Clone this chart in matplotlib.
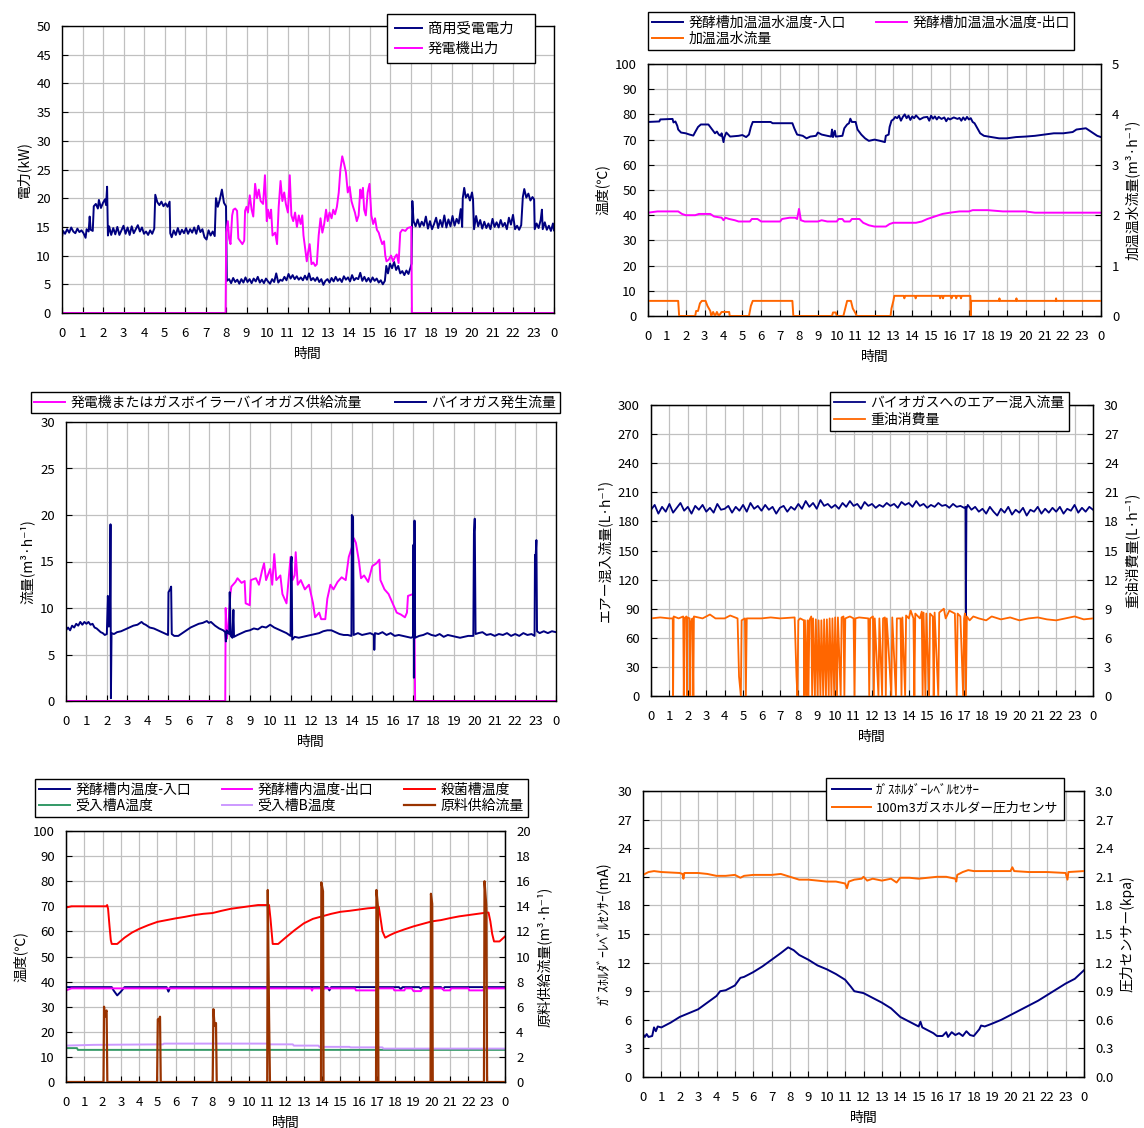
import numpy as np
import matplotlib
import matplotlib.pyplot as plt
matplotlib.use('Agg')

plt.rcParams['font.family'] = ['Noto Sans CJK JP', 'DejaVu Sans']

W, H = 1144, 1128
NAVY = '#000080'
MAGENTA = '#FF00FF'
ORANGE = '#FF6600'

hour_labels = [str(h) for h in range(24)] + ['0']

# --- panel 1: power (kW) ---
grid_kw = [
    (0.00, 13.2), (0.05, 14.3), (0.15, 13.8), (0.25, 14.6), (0.35, 14.0), (0.45, 14.9), (0.55, 14.2),
    (0.65, 13.9), (0.75, 14.7), (0.85, 14.1), (0.95, 14.4), (1.05, 13.9), (1.15, 13.1), (1.2, 14.6),
    (1.3, 14.2), (1.35, 16.8), (1.4, 14.5), (1.5, 14.3), (1.55, 18.6), (1.65, 19.0), (1.75, 18.2),
    (1.8, 19.7), (1.9, 18.3), (2.0, 19.2), (2.1, 19.8), (2.15, 18.8), (2.2, 22.0), (2.24, 13.5),
    (2.3, 15.1), (2.4, 13.6), (2.5, 14.8), (2.6, 13.7), (2.7, 15.0), (2.8, 13.6), (2.9, 14.4),
    (3.0, 15.2), (3.1, 13.8), (3.2, 14.9), (3.3, 13.6), (3.4, 15.1), (3.5, 13.9), (3.6, 14.6),
    (3.7, 15.3), (3.8, 14.2), (3.9, 14.9), (4.0, 13.8), (4.1, 14.2), (4.2, 13.6), (4.3, 14.4),
    (4.4, 13.8), (4.5, 14.7), (4.55, 20.6), (4.65, 19.3), (4.75, 18.8), (4.85, 19.4), (4.95, 18.6),
    (5.05, 19.1), (5.15, 18.5), (5.25, 19.4), (5.28, 13.9), (5.35, 13.2), (5.45, 14.4), (5.55, 13.6),
    (5.65, 14.8), (5.75, 13.7), (5.85, 14.5), (5.95, 13.9), (6.05, 14.8), (6.15, 13.8), (6.25, 14.6),
    (6.35, 14.0), (6.45, 14.9), (6.55, 13.8), (6.65, 15.2), (6.75, 14.1), (6.85, 14.6), (6.95, 13.2),
    (7.05, 12.8), (7.15, 14.4), (7.25, 13.5), (7.35, 14.2), (7.45, 13.4), (7.51, 20.0), (7.6, 18.5),
    (7.7, 19.8), (7.8, 21.5), (7.9, 19.2), (8.0, 18.6), (8.04, 5.6), (8.15, 5.9), (8.25, 5.2),
    (8.35, 6.1), (8.45, 5.4), (8.55, 5.8), (8.65, 5.1), (8.75, 5.9), (8.85, 5.3), (8.95, 6.2),
    (9.05, 5.4), (9.15, 5.9), (9.25, 5.2), (9.35, 6.0), (9.45, 5.5), (9.55, 6.3), (9.65, 5.3),
    (9.75, 5.8), (9.85, 5.2), (9.95, 6.0), (10.05, 5.5), (10.15, 5.1), (10.25, 5.9), (10.35, 5.4),
    (10.45, 6.9), (10.55, 5.3), (10.65, 5.8), (10.75, 5.6), (10.85, 6.3), (10.95, 5.7), (11.05, 6.8),
    (11.15, 6.0), (11.25, 6.6), (11.35, 5.9), (11.45, 6.4), (11.55, 5.8), (11.65, 6.2), (11.75, 5.7),
    (11.85, 6.5), (11.95, 5.8), (12.05, 6.9), (12.15, 5.7), (12.25, 6.1), (12.35, 5.6), (12.45, 6.2),
    (12.55, 5.4), (12.65, 5.9), (12.75, 4.9), (12.85, 5.6), (12.95, 5.9), (13.05, 5.3), (13.15, 6.1),
    (13.25, 5.5), (13.35, 6.3), (13.45, 5.6), (13.55, 6.0), (13.65, 5.4), (13.75, 6.4), (13.85, 5.8),
    (13.95, 6.2), (14.05, 5.5), (14.15, 6.6), (14.25, 5.7), (14.35, 6.1), (14.45, 5.9), (14.55, 7.0),
    (14.65, 5.6), (14.75, 6.3), (14.85, 5.5), (14.95, 6.1), (15.05, 5.4), (15.15, 6.2), (15.25, 5.6),
    (15.35, 6.0), (15.45, 5.3), (15.55, 5.7), (15.65, 5.0), (15.75, 5.6), (15.82, 8.2), (15.9, 6.9),
    (16.0, 8.6), (16.1, 7.8), (16.2, 8.9), (16.3, 7.5), (16.4, 8.2), (16.5, 6.9), (16.6, 7.3),
    (16.7, 6.6), (16.8, 7.4), (16.9, 6.8), (17.0, 7.9), (17.05, 8.6), (17.09, 19.5), (17.15, 16.0),
    (17.25, 15.1), (17.35, 16.3), (17.45, 15.0), (17.55, 15.9), (17.65, 15.2), (17.75, 16.8),
    (17.85, 14.7), (17.95, 16.0), (18.05, 14.6), (18.15, 15.5), (18.25, 16.6), (18.35, 14.8),
    (18.45, 16.2), (18.55, 15.0), (18.65, 17.0), (18.75, 14.9), (18.85, 16.3), (18.95, 15.1),
    (19.05, 16.9), (19.15, 15.2), (19.25, 16.4), (19.35, 15.6), (19.45, 18.1), (19.52, 15.0),
    (19.55, 20.0), (19.62, 21.8), (19.7, 20.1), (19.8, 20.7), (19.9, 19.6), (20.0, 21.0),
    (20.05, 19.8), (20.1, 14.6), (20.2, 16.9), (20.3, 15.1), (20.4, 16.2), (20.5, 14.7), (20.6, 15.9),
    (20.7, 14.8), (20.8, 15.6), (20.9, 14.6), (21.0, 16.4), (21.1, 15.0), (21.2, 15.8), (21.3, 14.9),
    (21.4, 16.2), (21.5, 15.1), (21.6, 15.7), (21.7, 14.6), (21.8, 16.6), (21.9, 15.4), (22.0, 17.1),
    (22.1, 14.6), (22.2, 15.2), (22.3, 14.5), (22.4, 15.3), (22.48, 20.2), (22.55, 21.6),
    (22.65, 20.1), (22.75, 20.8), (22.85, 19.6), (22.95, 20.2), (23.03, 19.8), (23.06, 14.6),
    (23.15, 15.6), (23.25, 14.8), (23.35, 16.2), (23.41, 18.0), (23.45, 14.6), (23.55, 15.8),
    (23.65, 14.5), (23.75, 15.2), (23.85, 14.3), (23.95, 15.6), (24.0, 14.4),
]
gen_kw = [
    (0, 0), (7.98, 0), (8.01, 14.0), (8.09, 16.0), (8.15, 13.0), (8.22, 12.0), (8.3, 17.0),
    (8.36, 18.0), (8.45, 18.2), (8.54, 17.8), (8.6, 13.0), (8.7, 12.5), (8.8, 12.0), (8.89, 12.6),
    (8.93, 17.8), (9.0, 18.5), (9.07, 17.5), (9.16, 20.5), (9.25, 18.0), (9.33, 16.8), (9.42, 22.5),
    (9.51, 20.0), (9.6, 21.5), (9.69, 19.5), (9.81, 19.0), (9.9, 24.0), (9.99, 16.0), (10.05, 18.0),
    (10.13, 16.5), (10.2, 18.0), (10.27, 13.5), (10.4, 14.0), (10.49, 12.0), (10.57, 18.5),
    (10.66, 23.0), (10.75, 19.5), (10.84, 21.0), (10.92, 19.0), (11.02, 17.5), (11.11, 24.0),
    (11.19, 17.0), (11.28, 16.0), (11.37, 17.5), (11.46, 15.0), (11.55, 17.0), (11.64, 15.5),
    (11.72, 17.0), (11.78, 13.5), (11.87, 11.0), (11.94, 9.0), (12.0, 10.5), (12.08, 12.0),
    (12.17, 8.5), (12.26, 8.8), (12.35, 8.2), (12.43, 8.5), (12.52, 13.5), (12.61, 16.5),
    (12.7, 14.0), (12.79, 15.5), (12.88, 18.0), (12.96, 16.0), (13.05, 17.5), (13.15, 16.5),
    (13.23, 18.0), (13.32, 17.2), (13.41, 18.5), (13.5, 21.0), (13.58, 25.0), (13.67, 27.3),
    (13.76, 26.0), (13.85, 24.5), (13.94, 21.0), (14.03, 22.0), (14.12, 19.5), (14.2, 18.5),
    (14.29, 17.5), (14.38, 16.0), (14.47, 17.0), (14.55, 21.5), (14.61, 20.0), (14.68, 21.8),
    (14.74, 18.0), (14.82, 17.0), (14.91, 21.0), (15.0, 22.5), (15.09, 17.0), (15.18, 15.5),
    (15.27, 16.5), (15.36, 14.5), (15.45, 14.0), (15.53, 13.0), (15.62, 12.0), (15.71, 12.5),
    (15.77, 10.0), (15.83, 9.0), (15.94, 9.3), (16.05, 10.0), (16.15, 9.0), (16.25, 9.8),
    (16.33, 10.2), (16.42, 8.7), (16.5, 14.0), (16.6, 14.5), (16.75, 14.3), (16.86, 14.8),
    (17.04, 15.0), (17.07, 0), (24, 0),
]

# --- panel 2: heating water ---
hw_in_temp = [
    (0, 77.0), (0.6, 77.2), (0.65, 78.0), (1.3, 78.2), (1.35, 76.8), (1.45, 77.2), (1.55, 75.5),
    (1.6, 74.0), (1.75, 72.8), (2.0, 72.5), (2.2, 72.0), (2.4, 71.6), (2.5, 73.0), (2.65, 75.0),
    (2.8, 76.0), (3.2, 76.0), (3.3, 75.0), (3.45, 73.5), (3.55, 72.5), (3.65, 73.2), (3.75, 72.0),
    (3.85, 71.5), (3.9, 72.5), (4.0, 69.0), (4.05, 71.0), (4.15, 72.8), (4.25, 72.0), (4.35, 71.2),
    (4.8, 71.5), (5.0, 71.8), (5.2, 71.0), (5.35, 72.0), (5.45, 75.0), (5.55, 77.0), (6.5, 77.0),
    (6.6, 76.5), (7.65, 76.5), (7.75, 74.5), (7.9, 72.0), (8.2, 71.5), (8.4, 70.5), (8.6, 71.2),
    (8.9, 71.5), (9.0, 72.8), (9.2, 72.0), (9.5, 71.5), (9.7, 71.2), (9.75, 74.0), (9.8, 71.0),
    (9.9, 73.5), (9.95, 71.2), (10.3, 71.5), (10.4, 74.5), (10.55, 76.0), (10.65, 76.5),
    (10.72, 78.3), (10.8, 77.0), (11.0, 77.0), (11.1, 74.0), (11.3, 72.0), (11.5, 70.5),
    (11.7, 69.5), (12.0, 70.0), (12.3, 69.5), (12.55, 69.0), (12.6, 71.5), (12.75, 72.0),
    (12.8, 75.0), (12.9, 77.5), (13.0, 78.0), (13.1, 79.0), (13.2, 78.5), (13.3, 79.5), (13.4, 77.5),
    (13.5, 79.0), (13.6, 80.0), (13.7, 78.5), (13.8, 79.5), (13.9, 77.8), (14.0, 79.2), (14.1, 78.5),
    (14.2, 79.6), (14.4, 78.0), (14.6, 78.8), (14.8, 79.0), (14.9, 77.5), (15.0, 79.5), (15.1, 78.3),
    (15.2, 79.2), (15.3, 78.0), (15.4, 79.0), (15.55, 78.2), (15.7, 78.8), (15.8, 77.3), (15.9, 78.5),
    (16.0, 78.0), (16.2, 78.8), (16.4, 78.2), (16.5, 78.6), (16.6, 77.5), (16.7, 78.8), (16.8, 77.8),
    (16.9, 79.0), (17.0, 78.0), (17.1, 78.5), (17.2, 77.0), (17.3, 76.5), (17.45, 74.5),
    (17.6, 72.5), (17.8, 71.5), (18.2, 71.0), (18.6, 70.5), (19.0, 70.5), (19.5, 71.0),
    (20.0, 71.2), (20.5, 71.5), (21.0, 72.0), (21.5, 72.5), (22.0, 72.5), (22.5, 73.0),
    (22.7, 74.0), (23.2, 74.5), (23.4, 73.5), (23.6, 72.5), (23.8, 71.5), (24.0, 71.0),
]
hw_out_temp = [
    (0, 41.0), (0.5, 41.5), (1.6, 41.5), (1.8, 40.5), (2.0, 40.0), (2.5, 40.0), (2.7, 40.5),
    (3.3, 40.5), (3.5, 39.5), (3.9, 39.0), (4.0, 38.0), (4.1, 39.0), (4.3, 38.5), (4.6, 38.0),
    (4.8, 37.5), (5.4, 37.5), (5.5, 38.5), (5.8, 38.5), (6.0, 37.5), (7.0, 37.5), (7.1, 38.5),
    (7.5, 39.0), (7.8, 39.0), (7.9, 38.5), (8.0, 42.5), (8.1, 38.0), (8.3, 37.5), (9.0, 37.5),
    (9.2, 38.0), (9.5, 37.5), (10.0, 37.5), (10.1, 38.5), (10.3, 38.5), (10.4, 37.5), (10.7, 37.5),
    (10.8, 38.5), (11.2, 38.5), (11.4, 37.0), (11.7, 36.0), (12.0, 35.5), (12.6, 35.5),
    (12.8, 36.5), (13.0, 37.0), (14.2, 37.0), (14.5, 37.5), (14.8, 38.5), (15.2, 39.5),
    (15.6, 40.5), (16.0, 41.0), (16.5, 41.5), (17.0, 41.5), (17.2, 42.0), (18.0, 42.0),
    (18.8, 41.5), (20.0, 41.5), (20.5, 41.0), (24, 41.0),
]
hw_flow = [
    (0, 0.3), (1.6, 0.3), (1.65, 0), (2.5, 0), (2.55, 0.1), (2.65, 0.1), (2.75, 0.25), (2.85, 0.3),
    (3.05, 0.3), (3.15, 0.2), (3.3, 0.1), (3.35, 0), (3.45, 0.08), (3.55, 0), (3.65, 0.08),
    (3.75, 0), (3.9, 0.08), (4.3, 0.08), (4.33, 0), (5.35, 0), (5.45, 0.2), (5.55, 0.3),
    (7.65, 0.3), (7.7, 0), (9.75, 0), (9.8, 0.07), (9.95, 0.07), (10.0, 0), (10.35, 0),
    (10.45, 0.15), (10.55, 0.3), (10.75, 0.3), (10.85, 0.15), (11.0, 0.05), (11.05, 0),
    (12.85, 0), (12.9, 0.15), (13.0, 0.3), (13.05, 0.4), (13.55, 0.4), (13.58, 0.35),
    (13.62, 0.4), (14.15, 0.4), (14.18, 0.35), (14.22, 0.4), (15.45, 0.4), (15.48, 0.35),
    (15.52, 0.4), (15.6, 0.4), (15.63, 0.35), (15.67, 0.4), (16.05, 0.4), (16.08, 0.35),
    (16.12, 0.4), (16.3, 0.4), (16.33, 0.35), (16.37, 0.4), (16.55, 0.4), (16.58, 0.35),
    (16.62, 0.4), (17.08, 0.4), (17.1, 0), (17.12, 0.3), (18.6, 0.3), (18.62, 0.35),
    (18.64, 0.3), (19.5, 0.3), (19.52, 0.35), (19.54, 0.3), (21.6, 0.3), (21.62, 0.35),
    (21.64, 0.3), (24, 0.3),
]

# --- panel 3: biogas flow ---
gas_supply = [
    (0, 0), (7.8, 0), (7.82, 10.0), (7.88, 6.7), (7.95, 8.0), (8.05, 11.5), (8.1, 12.3),
    (8.3, 12.8), (8.4, 13.2), (8.6, 12.7), (8.75, 12.9), (8.8, 10.5), (9.0, 10.3), (9.05, 13.0),
    (9.3, 13.2), (9.45, 12.5), (9.6, 14.0), (9.7, 14.8), (9.8, 13.0), (10.0, 14.2), (10.1, 12.5),
    (10.2, 15.8), (10.3, 13.0), (10.5, 13.5), (10.6, 11.5), (10.8, 10.5), (10.9, 13.0),
    (11.0, 15.5), (11.1, 13.0), (11.2, 13.5), (11.25, 16.0), (11.35, 12.5), (11.5, 13.0),
    (11.7, 12.0), (11.9, 12.5), (12.0, 11.5), (12.1, 10.5), (12.2, 9.0), (12.4, 9.5), (12.5, 8.8),
    (12.7, 8.8), (12.8, 11.0), (12.95, 12.5), (13.1, 12.0), (13.3, 12.8), (13.5, 13.3),
    (13.7, 13.0), (13.85, 15.5), (14.0, 16.5), (14.1, 17.5), (14.2, 17.0), (14.35, 15.0),
    (14.45, 13.2), (14.6, 13.5), (14.8, 12.8), (15.0, 14.5), (15.2, 14.8), (15.35, 15.2),
    (15.4, 13.0), (15.6, 12.0), (15.8, 11.5), (16.0, 10.5), (16.2, 9.5), (16.4, 9.3), (16.6, 9.0),
    (16.7, 9.5), (16.75, 11.3), (17.0, 11.5), (17.06, 11.4), (17.1, 0), (24, 0),
]
gas_make = [
    (0, 7.6), (0.1, 7.9), (0.2, 7.6), (0.3, 8.1), (0.4, 7.9), (0.5, 8.3), (0.6, 8.1), (0.7, 8.5),
    (0.8, 8.2), (0.9, 8.5), (1.0, 8.3), (1.1, 8.5), (1.2, 8.2), (1.3, 8.3), (1.4, 7.9), (1.5, 7.8),
    (1.6, 7.6), (1.7, 7.4), (1.8, 7.3), (1.9, 7.1), (2.0, 7.2), (2.05, 11.3), (2.1, 8.0),
    (2.15, 8.5), (2.18, 19.0), (2.2, 0.3), (2.23, 7.3), (2.35, 7.2), (2.5, 7.4), (2.7, 7.5),
    (2.9, 7.7), (3.1, 7.9), (3.3, 8.1), (3.5, 8.2), (3.7, 8.5), (3.8, 8.3), (3.9, 8.2), (4.1, 7.9),
    (4.3, 7.8), (4.5, 7.6), (4.7, 7.4), (4.9, 7.2), (5.0, 7.1), (5.02, 11.7), (5.1, 12.0),
    (5.15, 12.3), (5.18, 7.2), (5.3, 7.0), (5.5, 7.0), (5.7, 7.3), (5.9, 7.6), (6.1, 7.9),
    (6.3, 8.1), (6.5, 8.3), (6.7, 8.4), (6.9, 8.6), (7.0, 8.4), (7.1, 8.5), (7.3, 8.1), (7.5, 7.8),
    (7.7, 7.6), (7.8, 7.4), (7.83, 6.4), (7.87, 7.6), (7.95, 7.3), (8.0, 7.2), (8.02, 11.7),
    (8.07, 7.0), (8.15, 6.8), (8.2, 9.8), (8.23, 6.9), (8.4, 7.1), (8.6, 7.3), (8.8, 7.5),
    (9.0, 7.6), (9.2, 7.8), (9.4, 7.7), (9.6, 8.0), (9.8, 7.9), (10.0, 8.2), (10.2, 7.9),
    (10.4, 7.7), (10.6, 7.5), (10.8, 7.3), (11.0, 7.0), (11.02, 14.7), (11.05, 15.5), (11.08, 6.6),
    (11.2, 6.9), (11.4, 6.8), (11.6, 6.9), (11.8, 7.0), (12.0, 7.1), (12.2, 7.2), (12.4, 7.3),
    (12.6, 7.5), (12.8, 7.6), (13.0, 7.6), (13.2, 7.4), (13.4, 7.2), (13.6, 7.1), (13.8, 7.1),
    (13.98, 7.0), (14.0, 20.0), (14.06, 19.8), (14.09, 7.1), (14.3, 7.3), (14.5, 7.1), (14.7, 7.2),
    (14.9, 7.3), (15.08, 7.1), (15.1, 5.5), (15.13, 7.3), (15.3, 7.2), (15.5, 7.4), (15.7, 7.1),
    (15.9, 7.3), (16.1, 7.0), (16.3, 7.1), (16.5, 7.0), (16.7, 6.9), (16.9, 6.8), (17.0, 6.9),
    (17.02, 16.8), (17.04, 2.5), (17.07, 19.4), (17.1, 6.8), (17.3, 7.0), (17.5, 7.1), (17.7, 7.3),
    (17.9, 7.1), (18.1, 7.0), (18.3, 7.2), (18.5, 6.9), (18.7, 7.1), (18.9, 7.0), (19.1, 6.9),
    (19.3, 6.8), (19.5, 6.9), (19.7, 7.0), (19.95, 7.0), (19.98, 18.0), (20.02, 19.6),
    (20.06, 7.2), (20.2, 7.3), (20.4, 7.4), (20.6, 7.1), (20.8, 7.2), (21.0, 7.0), (21.2, 7.2),
    (21.4, 7.1), (21.6, 7.3), (21.8, 7.0), (22.0, 7.2), (22.2, 7.0), (22.4, 7.3), (22.6, 7.1),
    (22.8, 7.2), (22.95, 7.0), (22.97, 15.7), (23.0, 15.4), (23.04, 17.3), (23.07, 7.5),
    (23.2, 7.3), (23.4, 7.5), (23.6, 7.3), (23.8, 7.5), (24.0, 7.4),
]

# --- panel 4: air flow / heavy oil ---
air_step_h = 0.2
air_flow = [
    192, 197, 188, 195, 190, 198, 189, 194, 199, 191,
    195, 188, 196, 192, 197, 190, 194, 189, 198, 192,
    193, 196, 189, 195, 191, 197, 190, 199, 193, 196,
    191, 197, 192, 195, 188, 194, 196, 190, 195, 192,
    198, 193, 201, 195, 199, 193, 202, 196, 198, 194,
    197, 193, 199, 195, 201, 196, 198, 193, 200, 196,
    198, 194, 197, 195, 199, 196, 198, 194, 200, 197,
    199, 195, 201, 196, 198, 194, 197, 195, 199, 196,
    197, 194, 198, 195, 196, 194, 197, 192, 195, 190,
    193, 188, 195, 190, 186, 193, 189, 195, 187, 192,
    189, 194, 186, 192, 190, 195, 188, 193, 189, 194,
    190, 195, 188, 193, 191, 197, 189, 194, 190, 195,
    192,
]
air_dip = [(17.08, 195), (17.1, 82), (17.13, 193)]
oil_flow = [
    (0, 8.0), (0.5, 8.1), (1.0, 8.0), (1.18, 8.0), (1.2, 0), (1.23, 8.2), (1.5, 8.0), (1.75, 8.2),
    (1.78, 0), (1.82, 8.0), (1.92, 8.2), (1.95, 0), (1.98, 8.1), (2.1, 8.0), (2.13, 0), (2.16, 7.5),
    (2.25, 8.0), (2.3, 0), (2.33, 8.2), (2.8, 8.0), (3.2, 8.4), (3.5, 8.0), (4.0, 8.0), (4.3, 8.3),
    (4.7, 8.0), (4.78, 2.0), (4.88, 0), (4.92, 7.8), (5.1, 8.0), (5.15, 0), (5.2, 8.0), (6.0, 8.0),
    (6.5, 8.1), (7.0, 8.0), (7.8, 8.1), (7.9, 2.0), (7.95, 0), (8.0, 7.8), (8.1, 8.0), (8.3, 7.8),
    (8.33, 0), (8.36, 7.8), (8.45, 0), (8.5, 7.8), (8.55, 0), (8.6, 7.8), (8.7, 8.2), (8.75, 0),
    (8.8, 8.0), (8.9, 0), (8.95, 7.9), (9.05, 0), (9.1, 7.8), (9.2, 0), (9.25, 7.8), (9.35, 0),
    (9.4, 7.9), (9.5, 0), (9.55, 7.9), (9.65, 0), (9.7, 8.0), (9.8, 0), (9.85, 8.0), (9.95, 0),
    (10.0, 8.1), (10.1, 0), (10.15, 8.1), (10.3, 0), (10.35, 8.1), (10.45, 8.2), (10.5, 0),
    (10.55, 8.0), (10.8, 8.2), (11.0, 8.0), (11.05, 0), (11.1, 8.0), (11.3, 8.1), (11.8, 8.0),
    (11.85, 0), (11.9, 8.0), (12.05, 8.2), (12.1, 0), (12.15, 8.0), (12.35, 0), (12.4, 8.0),
    (12.55, 0), (12.6, 8.0), (12.7, 8.1), (12.75, 0), (12.8, 8.0), (13.05, 0), (13.1, 8.1),
    (13.3, 0), (13.35, 8.0), (13.55, 8.0), (13.6, 0), (13.65, 8.1), (13.8, 0), (13.85, 8.3),
    (14.0, 8.0), (14.1, 8.8), (14.25, 8.0), (14.3, 0), (14.35, 8.5), (14.6, 8.0), (14.7, 8.7),
    (14.75, 0), (14.8, 8.6), (14.9, 0), (14.95, 8.5), (15.1, 0), (15.15, 8.5), (15.3, 8.2),
    (15.35, 0), (15.4, 8.6), (15.6, 0), (15.65, 8.6), (15.9, 9.0), (16.0, 8.0), (16.2, 8.8),
    (16.5, 8.5), (16.6, 0), (16.65, 8.5), (16.8, 8.2), (16.95, 0), (17.0, 8.0), (17.05, 8.5),
    (17.1, 0), (17.15, 8.2), (17.3, 7.8), (17.5, 8.2), (17.8, 8.0), (18.2, 7.8), (18.5, 8.2),
    (19.0, 7.9), (19.5, 8.1), (20.0, 7.8), (20.5, 8.0), (21.0, 8.1), (21.5, 7.9), (22.0, 7.8),
    (22.5, 8.0), (23.0, 8.2), (23.5, 7.9), (24, 8.0),
]

# --- panel 5: digester temperatures ---
dig_in_temp = [
    (0, 37.8), (2.5, 37.8), (2.6, 36.5), (2.8, 34.5), (3.0, 36.0), (3.2, 37.8), (5.5, 37.8),
    (5.6, 36.0), (5.7, 37.8), (14.3, 37.8), (14.4, 36.5), (14.5, 37.8), (18.2, 37.8), (18.3, 37.0),
    (18.4, 37.8), (19.3, 37.8), (19.4, 37.2), (19.5, 37.8), (20.5, 37.8), (20.6, 37.0),
    (20.7, 37.8), (24, 37.8),
]
dig_out_temp = [
    (0, 36.5), (0.3, 37.3), (13.4, 37.3), (13.45, 36.4), (13.5, 37.3), (14.0, 37.3), (14.05, 36.5),
    (14.1, 37.3), (15.8, 37.3), (15.85, 36.5), (17.0, 36.5), (17.05, 37.3), (17.9, 37.3),
    (17.95, 36.5), (18.5, 36.5), (18.55, 37.3), (18.9, 37.3), (19.0, 36.2), (19.4, 36.2),
    (19.5, 37.3), (20.6, 37.3), (20.65, 36.5), (21.0, 36.5), (21.05, 37.3), (22.0, 37.3),
    (22.05, 36.5), (22.8, 36.5), (22.85, 37.3), (24, 37.3),
]
steril_temp = [
    (0, 69.5), (0.3, 70.0), (2.2, 70.0), (2.25, 70.5), (2.3, 69.0), (2.38, 62.0), (2.45, 56.5),
    (2.5, 55.0), (2.8, 55.0), (3.2, 57.5), (3.6, 59.5), (4.0, 61.0), (4.5, 62.5), (5.0, 63.8),
    (5.5, 64.5), (6.0, 65.2), (6.5, 65.8), (7.0, 66.5), (7.5, 67.0), (8.0, 67.3), (8.5, 68.2),
    (9.0, 69.0), (9.5, 69.5), (10.0, 70.0), (10.5, 70.5), (11.1, 70.5), (11.18, 65.0),
    (11.3, 55.0), (11.6, 55.0), (12.0, 57.5), (12.5, 60.5), (13.0, 63.2), (13.5, 65.0),
    (14.0, 66.0), (14.5, 67.0), (15.0, 67.8), (15.5, 68.2), (16.0, 68.7), (16.5, 69.2),
    (17.0, 69.5), (17.1, 69.8), (17.2, 65.0), (17.3, 60.0), (17.45, 57.5), (17.7, 58.5),
    (18.0, 59.5), (18.5, 60.8), (19.0, 62.0), (19.5, 63.0), (20.0, 64.0), (20.5, 64.5),
    (21.0, 65.3), (21.5, 66.0), (22.0, 66.5), (22.5, 67.0), (23.0, 67.5), (23.1, 67.5),
    (23.2, 64.0), (23.3, 59.0), (23.4, 56.0), (23.7, 56.0), (24.0, 58.0),
]
tank_a_temp = [(0, 13.5), (0.6, 13.5), (0.65, 12.8), (24, 12.8)]
tank_b_temp = [
    (0, 14.5), (1.5, 14.8), (5.3, 15.0), (5.35, 15.3), (11.1, 15.3), (11.15, 15.0), (12.4, 15.0),
    (12.45, 14.5), (13.8, 14.5), (13.85, 14.0), (15.5, 14.0), (15.55, 13.8), (17.3, 13.8),
    (17.35, 13.3), (24, 13.3),
]
feed_flow = [
    (0, 0), (2.05, 0), (2.08, 6.0), (2.12, 5.2), (2.18, 5.6), (2.22, 5.7), (2.26, 0), (4.98, 0),
    (5.02, 5.0), (5.08, 4.9), (5.14, 5.2), (5.18, 0), (8.02, 0), (8.06, 5.8), (8.12, 4.5),
    (8.2, 4.7), (8.24, 0), (11.0, 0), (11.03, 15.3), (11.1, 5.4), (11.15, 0), (13.94, 0),
    (13.96, 15.9), (14.05, 15.2), (14.08, 0), (16.95, 0), (16.97, 15.3), (17.05, 14.0),
    (17.08, 0), (19.93, 0), (19.95, 15.0), (20.02, 14.2), (20.05, 0), (22.85, 0), (22.88, 16.0),
    (22.98, 14.0), (23.02, 0), (24, 0),
]

# --- panel 6: gas holder ---
holder_level = [
    (0, 4.5), (0.1, 4.2), (0.2, 4.5), (0.3, 4.2), (0.5, 4.3), (0.6, 5.2), (0.7, 4.8), (0.8, 5.3),
    (1.0, 5.2), (1.5, 5.7), (2.0, 6.3), (2.5, 6.7), (3.0, 7.1), (3.5, 7.8), (4.0, 8.5), (4.2, 9.0),
    (4.5, 9.1), (5.0, 9.6), (5.3, 10.4), (5.5, 10.5), (6.0, 11.0), (6.5, 11.6), (7.0, 12.3),
    (7.5, 13.0), (7.9, 13.6), (8.2, 13.3), (8.5, 12.8), (9.0, 12.3), (9.5, 11.7), (10.0, 11.3),
    (10.5, 10.8), (11.0, 10.2), (11.3, 9.5), (11.5, 9.0), (12.0, 8.8), (12.5, 8.3), (13.0, 7.8),
    (13.5, 7.2), (14.0, 6.3), (14.5, 5.8), (15.0, 5.3), (15.1, 5.8), (15.2, 5.2), (15.5, 4.9),
    (15.8, 4.6), (16.0, 4.3), (16.3, 4.3), (16.5, 4.7), (16.6, 4.2), (16.8, 4.7), (17.0, 4.4),
    (17.2, 4.6), (17.4, 4.3), (17.6, 4.8), (17.8, 4.4), (18.0, 4.3), (18.3, 5.0), (18.4, 5.4),
    (18.6, 5.3), (19.0, 5.6), (19.5, 6.0), (20.0, 6.5), (20.5, 7.0), (21.0, 7.5), (21.5, 8.0),
    (22.0, 8.6), (22.5, 9.2), (23.0, 9.8), (23.5, 10.3), (24.0, 11.2),
]
holder_press = [
    (0, 2.12), (0.3, 2.15), (0.6, 2.16), (1.0, 2.15), (2.0, 2.14), (2.15, 2.13), (2.2, 2.08),
    (2.25, 2.14), (3.0, 2.14), (3.5, 2.13), (4.0, 2.11), (4.5, 2.11), (5.0, 2.12), (5.3, 2.09),
    (5.5, 2.11), (6.0, 2.12), (7.0, 2.12), (7.5, 2.13), (8.0, 2.10), (8.5, 2.07), (9.0, 2.07),
    (9.5, 2.06), (10.0, 2.05), (10.5, 2.05), (11.0, 2.03), (11.1, 1.98), (11.2, 2.05), (11.5, 2.07),
    (11.9, 2.08), (12.0, 2.10), (12.2, 2.06), (12.5, 2.08), (13.0, 2.06), (13.5, 2.08),
    (13.8, 2.04), (14.0, 2.09), (14.5, 2.09), (15.0, 2.08), (15.5, 2.09), (16.0, 2.10),
    (16.5, 2.10), (17.0, 2.08), (17.05, 2.05), (17.1, 2.12), (17.4, 2.15), (17.7, 2.17),
    (18.0, 2.16), (19.0, 2.16), (20.0, 2.16), (20.1, 2.20), (20.2, 2.16), (21.0, 2.15),
    (22.0, 2.15), (23.0, 2.14), (23.1, 2.07), (23.15, 2.15), (24, 2.16),
]


def split(pairs):
    arr = np.array(pairs, dtype=float)
    return arr[:, 0], arr[:, 1]


fig = plt.figure(figsize=(W / 100, H / 100), dpi=100)


def make_axes(left, right, top, bottom):
    return fig.add_axes([left / W, 1 - bottom / H, (right - left) / W, (bottom - top) / H])


def style(ax, ymax, ystep, ylabel):
    ax.set_xlim(0, 24)
    ax.set_ylim(0, ymax)
    ax.set_xticks(range(25))
    ax.set_xticklabels(hour_labels)
    ax.set_yticks(np.arange(0, ymax + ystep / 2, ystep))
    ax.grid(True, color='#C0C0C0', lw=0.9)
    ax.set_axisbelow(True)
    ax.tick_params(direction='in', length=4, labelsize=9.5)
    ax.tick_params(axis='x', pad=10)
    ax.tick_params(axis='y', pad=8)
    ax.set_xlabel('時間', fontsize=10, labelpad=5)
    ax.set_ylabel(ylabel, fontsize=10)
    for s in ax.spines.values():
        s.set_linewidth(1.0)


def style_right(ax2, ymax, ystep, ylabel, fmt='{:g}'):
    ax2.set_ylim(0, ymax)
    ticks = np.arange(0, ymax + ystep / 2, ystep)
    ax2.set_yticks(ticks)
    ax2.set_yticklabels([fmt.format(v) for v in ticks])
    ax2.tick_params(direction='in', length=4, labelsize=9.5, pad=8)
    ax2.set_ylabel(ylabel, fontsize=10)


def add_legend(ax, handles, x, y, ncol=1, fontsize=10, colsp=2.0, pad=0.25, spacing=0.15,
               hlen=2.2):
    leg = ax.legend(handles=handles, loc='upper left', bbox_to_anchor=(x / W, 1 - y / H),
                    bbox_transform=fig.transFigure, ncol=ncol, frameon=True, fancybox=False,
                    framealpha=1, edgecolor='black', fontsize=fontsize, handlelength=hlen,
                    borderpad=pad, labelspacing=spacing, columnspacing=colsp, borderaxespad=0,
                    handletextpad=0.4)
    leg.get_frame().set_linewidth(1.0)
    leg.set_zorder(20)


# panel 1
ax1 = make_axes(62, 554, 26, 313)
style(ax1, 50, 5, '電力(kW)')
l1, = ax1.plot(*split(grid_kw), color=NAVY, lw=1.4, label='商用受電電力\u3000')
l2, = ax1.plot(*split(gen_kw), color=MAGENTA, lw=1.4, label='発電機出力')
add_legend(ax1, [l1, l2], 387, 14, fontsize=10.3, pad=0.55, spacing=0.4, hlen=1.9)

# panel 2
ax2 = make_axes(648, 1101, 64, 316)
style(ax2, 100, 10, '温度(℃)')
ax2r = ax2.twinx()
style_right(ax2r, 5, 1, '加温温水流量(m³·h⁻¹)')
a, = ax2.plot(*split(hw_in_temp), color=NAVY, lw=1.4, label='発酵槽加温温水温度-入口')
b, = ax2.plot(*split(hw_out_temp), color=MAGENTA, lw=1.4, label='発酵槽加温温水温度-出口')
c, = ax2r.plot(*split(hw_flow), color=ORANGE, lw=1.4, label='加温温水流量')
add_legend(ax2r, [a, c, b], 648, 12, ncol=2, colsp=2.2, pad=0.3)

# panel 3
ax3 = make_axes(66, 556, 422, 701)
style(ax3, 30, 5, '流量(m³·h⁻¹)')
a, = ax3.plot(*split(gas_supply), color=MAGENTA, lw=1.4,
              label='発電機またはガスボイラーバイオガス供給流量')
b, = ax3.plot(*split(gas_make), color=NAVY, lw=1.4, label='バイオガス発生流量')
add_legend(ax3, [a, b], 31, 392, ncol=2, colsp=2.4)

# panel 4
ax4 = make_axes(651, 1093, 405, 696)
style(ax4, 300, 30, 'エアー混入流量(L·h⁻¹)')
ax4r = ax4.twinx()
style_right(ax4r, 30, 3, '重油消費量(L·h⁻¹)')
air_t = np.arange(len(air_flow)) * air_step_h
dip_t, dip_v = split(air_dip)
air_all_t = np.concatenate([air_t, dip_t])
air_all_v = np.concatenate([np.array(air_flow, dtype=float), dip_v])
order = np.argsort(air_all_t, kind='stable')
a, = ax4.plot(air_all_t[order], air_all_v[order], color=NAVY, lw=1.3,
              label='バイオガスへのエアー混入流量')
b, = ax4r.plot(*split(oil_flow), color=ORANGE, lw=1.3, label='重油消費量')
add_legend(ax4r, [a, b], 830, 392, pad=0.3, spacing=0.2)

# panel 5
ax5 = make_axes(66, 505, 831, 1082)
style(ax5, 100, 10, '温度(℃)')
ax5r = ax5.twinx()
style_right(ax5r, 20, 2, '原料供給流量(m³·h⁻¹)')
h_in, = ax5.plot(*split(dig_in_temp), color=NAVY, lw=1.4, label='発酵槽内温度-入口')
h_out, = ax5.plot(*split(dig_out_temp), color=MAGENTA, lw=1.4, label='発酵槽内温度-出口')
h_st, = ax5.plot(*split(steril_temp), color='#FF0000', lw=1.4, label='殺菌槽温度')
h_a, = ax5.plot(*split(tank_a_temp), color='#339966', lw=1.4, label='受入槽A温度')
h_b, = ax5.plot(*split(tank_b_temp), color='#CC99FF', lw=1.4, label='受入槽B温度')
h_f, = ax5r.plot(*split(feed_flow), color='#993300', lw=1.6, label='原料供給流量')
add_legend(ax5r, [h_in, h_a, h_out, h_b, h_st, h_f], 35, 779, ncol=3, colsp=2.2, pad=0.3)

# panel 6
ax6 = make_axes(643, 1084, 791, 1077)
style(ax6, 30, 3, 'ｶﾞｽﾎﾙﾀﾞｰﾚﾍﾞﾙｾﾝｻｰ(mA)')
ax6r = ax6.twinx()
style_right(ax6r, 3.0, 0.3, '圧力センサー(kpa)', fmt='{:.1f}')
a, = ax6.plot(*split(holder_level), color=NAVY, lw=1.4, label='ｶﾞｽﾎﾙﾀﾞｰﾚﾍﾞﾙｾﾝｻｰ')
b, = ax6r.plot(*split(holder_press), color=ORANGE, lw=1.4, label='100m3ガスホルダー圧力センサ')
add_legend(ax6r, [a, b], 826, 778, fontsize=9.3, pad=0.45, spacing=0.35, hlen=3.0)

fig.savefig('out.png', dpi=100)
